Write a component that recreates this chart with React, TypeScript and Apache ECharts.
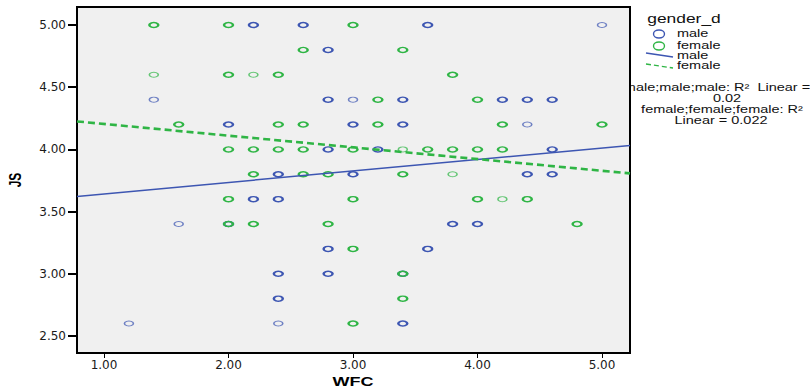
import React, { useEffect, useRef } from "react";
import * as echarts from "echarts";

// Axis settings (WFC on x, JS on y)
const xExtent = [0.783, 5.225];
const yExtent = [2.363, 5.145];
const xTickValues = [1, 2, 3, 4, 5];
const yTickValues = [2.5, 3, 3.5, 4, 4.5, 5];

// [WFC, JS, overlap weight (1 = single case, 2 = several cases)]
const maleCases: [number, number, number][] = [
  [2.2, 5.0, 2], [2.6, 5.0, 2], [3.6, 5.0, 2], [5.0, 5.0, 1],
  [2.8, 4.8, 2],
  [1.4, 4.4, 1], [2.8, 4.4, 2], [3.0, 4.4, 1], [3.4, 4.4, 2], [4.2, 4.4, 2], [4.4, 4.4, 2], [4.6, 4.4, 2],
  [2.0, 4.2, 2], [3.0, 4.2, 2], [3.4, 4.2, 2], [4.4, 4.2, 1],
  [2.8, 4.0, 2], [3.2, 4.0, 2], [4.6, 4.0, 2],
  [2.4, 3.8, 2], [3.0, 3.8, 2], [4.4, 3.8, 2], [4.6, 3.8, 2],
  [2.2, 3.6, 2], [2.4, 3.6, 2],
  [1.6, 3.4, 1], [2.0, 3.4, 2], [3.8, 3.4, 2], [4.0, 3.4, 2],
  [2.8, 3.2, 2], [3.6, 3.2, 2],
  [2.4, 3.0, 2], [2.8, 3.0, 2], [3.4, 3.0, 2],
  [2.4, 2.8, 2],
  [1.2, 2.6, 1], [2.4, 2.6, 1], [3.4, 2.6, 2],
];

const femaleCases: [number, number, number][] = [
  [1.4, 5.0, 2], [2.0, 5.0, 2], [3.0, 5.0, 2],
  [2.6, 4.8, 2], [3.4, 4.8, 2],
  [1.4, 4.6, 1], [2.0, 4.6, 2], [2.2, 4.6, 1], [2.4, 4.6, 2], [3.8, 4.6, 2],
  [3.2, 4.4, 2], [4.0, 4.4, 2],
  [1.6, 4.2, 2], [2.4, 4.2, 2], [2.6, 4.2, 2], [3.2, 4.2, 2], [4.2, 4.2, 2], [5.0, 4.2, 2],
  [2.0, 4.0, 2], [2.2, 4.0, 2], [2.4, 4.0, 2], [2.6, 4.0, 2], [3.0, 4.0, 2], [3.4, 4.0, 1],
  [3.6, 4.0, 2], [3.8, 4.0, 2], [4.0, 4.0, 2], [4.2, 4.0, 2],
  [2.2, 3.8, 2], [2.6, 3.8, 2], [2.8, 3.8, 2], [3.4, 3.8, 2], [3.8, 3.8, 1],
  [2.0, 3.6, 2], [3.0, 3.6, 2], [4.0, 3.6, 2], [4.2, 3.6, 1], [4.4, 3.6, 2],
  [2.0, 3.4, 2], [2.2, 3.4, 2], [2.8, 3.4, 2], [4.8, 3.4, 2],
  [3.0, 3.2, 2],
  [3.4, 3.0, 2],
  [3.4, 2.8, 2],
  [3.0, 2.6, 2],
];

// Linear fit lines, end points at the axis bounds
const maleFit = [[0.783, 3.622], [5.225, 4.032]];
const femaleFit = [[0.783, 4.225], [5.225, 3.807]];

const legendTitle = "gender_d";
const legendLabels = ["male", "female", "male", "female"];
const fitNotes = ["male;male;male: R²  Linear =", "0.02", "female;female;female: R²", "Linear = 0.022"];
const xName = "WFC";
const yName = "JS";

const BLUE = "#3d56b2";
const GREEN = "#2fb545";
const SANS = "'Liberation Sans', Arial, sans-serif";
const STRETCH = 1.45;

function toItems(cases: [number, number, number][]) {
  return cases.map((c) => ({
    value: [c[0], c[1]],
    itemStyle: c[2] > 1 ? { borderWidth: 1.9, opacity: 1 } : { borderWidth: 1.2, opacity: 0.72 },
  }));
}

function stretchedText(text: string, x: number, y: number, fontSize: number, align: string, extra: any = {}) {
  return {
    type: "text",
    x,
    y,
    scaleX: STRETCH,
    z: 1,
    style: {
      text,
      fontSize,
      fontFamily: SANS,
      fill: "#111",
      align,
      verticalAlign: "middle",
      ...extra,
    },
  };
}

export default function App() {
  const ref = useRef<HTMLDivElement>(null);

  useEffect(() => {
    if (!ref.current) return;
    const chart = echarts.init(ref.current, undefined, { renderer: "svg" });

    const axisLabelFont = {
      fontFamily: "'DejaVu Sans', sans-serif",
      fontSize: 12,
      color: "#1a1a1a",
      formatter: (v: number) => v.toFixed(2),
    };

    chart.setOption({
      animation: false,
      backgroundColor: "#ffffff",
      grid: {
        left: 77,
        right: 180,
        top: 7,
        bottom: 38,
        show: true,
        backgroundColor: "#f0f0f0",
        borderColor: "#000",
        borderWidth: 2,
        z: 2,
      },
      xAxis: {
        type: "value",
        min: xExtent[0],
        max: xExtent[1],
        axisLine: { show: false },
        splitLine: { show: false },
        axisTick: { show: true, length: 5, lineStyle: { color: "#000", width: 1 }, customValues: xTickValues },
        axisLabel: { ...axisLabelFont, margin: 6, customValues: xTickValues },
      },
      yAxis: {
        type: "value",
        min: yExtent[0],
        max: yExtent[1],
        axisLine: { show: false },
        splitLine: { show: false },
        axisTick: { show: true, length: 9, lineStyle: { color: "#000", width: 2 }, customValues: yTickValues },
        axisLabel: { ...axisLabelFont, margin: 11, customValues: yTickValues },
      },
      series: [
        {
          name: "male",
          type: "scatter",
          symbol: "circle",
          symbolSize: [9, 5],
          itemStyle: { color: "rgba(0,0,0,0)", borderColor: BLUE, borderWidth: 1.9 },
          data: toItems(maleCases),
          z: 3,
        },
        {
          name: "female",
          type: "scatter",
          symbol: "circle",
          symbolSize: [9, 5],
          itemStyle: { color: "rgba(0,0,0,0)", borderColor: GREEN, borderWidth: 1.9 },
          data: toItems(femaleCases),
          z: 3,
        },
        {
          name: "male fit",
          type: "line",
          data: maleFit,
          showSymbol: false,
          symbol: "none",
          lineStyle: { color: BLUE, width: 1.5, type: "solid" },
          z: 4,
        },
        {
          name: "female fit",
          type: "line",
          data: femaleFit,
          showSymbol: false,
          symbol: "none",
          lineStyle: { color: GREEN, width: 2.6, type: [7, 4] },
          z: 4,
        },
      ],
      graphic: [
        // axis titles
        {
          type: "text",
          x: 353,
          y: 382,
          scaleX: 1.5,
          style: { text: xName, fontSize: 12, fontWeight: "bold", fontFamily: SANS, fill: "#000", align: "center", verticalAlign: "middle" },
        },
        {
          type: "text",
          x: 15,
          y: 180,
          rotation: Math.PI / 2,
          scaleY: 1.45,
          style: { text: yName, fontSize: 12, fontWeight: "bold", fontFamily: SANS, fill: "#000", align: "center", verticalAlign: "middle" },
        },
        // legend
        stretchedText(legendTitle, 684, 19, 12, "center"),
        { type: "ellipse", shape: { cx: 659, cy: 34, rx: 5.5, ry: 4 }, style: { fill: "none", stroke: BLUE, lineWidth: 1.4 } },
        stretchedText(legendLabels[0], 677, 34, 10, "left"),
        { type: "ellipse", shape: { cx: 659, cy: 46, rx: 5.5, ry: 4 }, style: { fill: "none", stroke: GREEN, lineWidth: 1.4 } },
        stretchedText(legendLabels[1], 677, 46, 10, "left"),
        { type: "line", shape: { x1: 646, y1: 53, x2: 673, y2: 57 }, style: { stroke: BLUE, lineWidth: 1.4 } },
        stretchedText(legendLabels[2], 677, 56, 10, "left"),
        { type: "line", shape: { x1: 646, y1: 64, x2: 673, y2: 68 }, style: { stroke: GREEN, lineWidth: 1.3, lineDash: [5, 3] } },
        stretchedText(legendLabels[3], 677, 66, 10, "left"),
        // fit notes
        stretchedText(fitNotes[0], 717, 88, 10, "center"),
        stretchedText(fitNotes[1], 727, 99, 10, "center"),
        stretchedText(fitNotes[2], 722, 110, 10, "center"),
        stretchedText(fitNotes[3], 721, 121, 10, "center"),
      ],
    });

    return () => chart.dispose();
  }, []);

  return (
    <div
      ref={ref}
      style={{ position: "absolute", left: 0, top: 0, width: 810, height: 391 }}
    />
  );
}
